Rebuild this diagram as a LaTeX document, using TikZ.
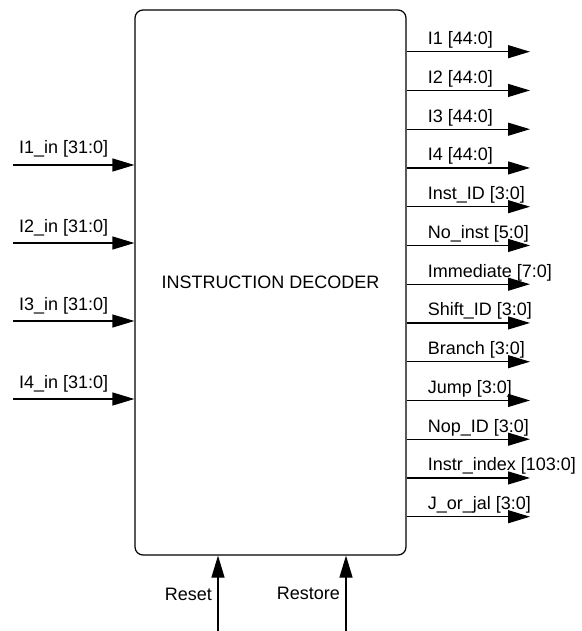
\documentclass[tikz,border=0pt]{standalone}
\usepackage{fontspec}
\setmainfont{Liberation Sans}
\usetikzlibrary{arrows.meta, positioning}

\begin{document}
\begin{tikzpicture}[
    x=1pt, y=-1pt,
    block/.style={rectangle, draw, rounded corners=8pt, line width=1.2pt, minimum width=271pt, minimum height=545pt, font=\fontsize{18}{21}\selectfont},
    sig/.style={line width=1.2pt, -{Triangle[length=22pt, width=13pt]}},
    lbl/.style={font=\fontsize{18}{21}\selectfont, inner sep=0pt},
]
\useasboundingbox (0,0) rectangle (581,631);

\node[block] (dec) at (270.5,282.5) {INSTRUCTION DECODER};

% inputs
\foreach \y/\txt [count=\i] in {165/I1\_in [31:0], 243/I2\_in [31:0], 321/I3\_in [31:0], 399/I4\_in [31:0]} {
    \coordinate (in\i) at (13,\y);
    \draw[sig] (in\i) -- (in\i -| dec.west);
    \node[lbl, anchor=base west, xshift=6pt, yshift=11pt] (inl\i) at (in\i) {\txt};
}

% outputs
\foreach \txt [count=\i] in {I1 [44:0], I2 [44:0], I3 [44:0], I4 [44:0], Inst\_ID [3:0], No\_inst [5:0], Immediate [7:0], Shift\_ID [3:0], Branch [3:0], Jump [3:0], Nop\_ID [3:0], Instr\_index [103:0], J\_or\_jal [3:0]} {
    \pgfmathsetmacro\y{51.7+38.75*(\i-1)}
    \coordinate (out\i) at (530,\y);
    \draw[sig] (out\i -| dec.east) -- (out\i);
    \node[lbl, anchor=base west, xshift=21pt, yshift=7pt] (outl\i) at (out\i -| dec.east) {\txt};
}

% control
\coordinate (rst) at (218,631);
\coordinate (rsto) at (346,631);
\draw[sig] (rst) -- (rst |- dec.south);
\draw[sig] (rsto) -- (rsto |- dec.south);
\node[lbl, anchor=base east, xshift=-6pt, yshift=31pt] (rstl) at (rst) {Reset};
\node[lbl, anchor=base east, xshift=-6pt, yshift=32pt] (rstol) at (rsto) {Restore};

\end{tikzpicture}
\end{document}
